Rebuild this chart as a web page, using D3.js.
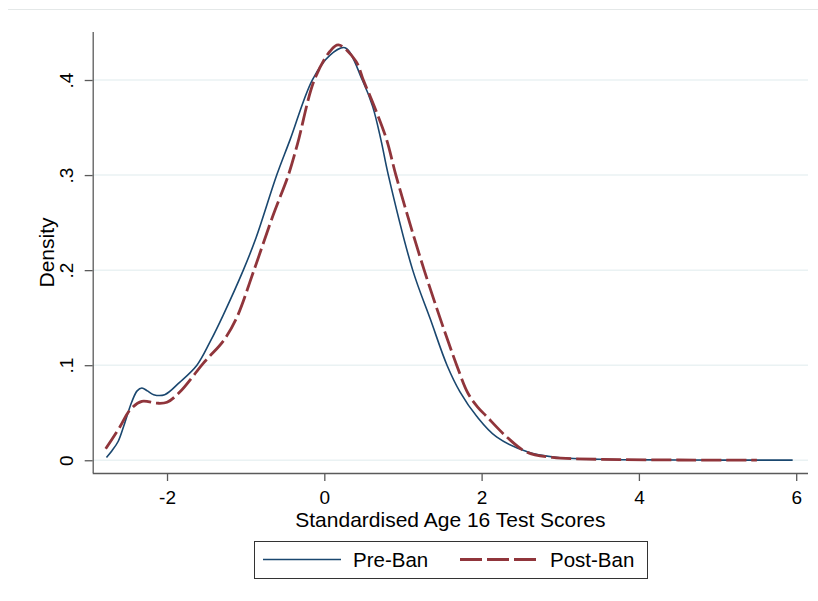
<!DOCTYPE html>
<html>
<head>
<meta charset="utf-8">
<script src="https://cdn.jsdelivr.net/npm/d3@7"></script>
<style>
  body { margin: 0; background: #fff; }
  svg { display: block; font-family: "Liberation Sans", Arial, sans-serif; }
</style>
</head>
<body>
<svg id="chart" width="818" height="601"></svg>
<script>
// kernel density readings, standardised age 16 test scores
const preX = [-2.77, -2.70, -2.62, -2.55, -2.45, -2.38, -2.32, -2.25, -2.17, -2.03, -1.84, -1.62, -1.45, -1.284, -1.03, -0.868, -0.605, -0.436, -0.153, 0.07, 0.263, 0.483, 0.615, 0.72, 0.814, 1.124, 1.35, 1.56, 1.725, 1.94, 2.19, 2.59, 2.91, 3.5, 4.5, 5.955];
const preY = [0.003, 0.010, 0.020, 0.036, 0.061, 0.073, 0.076, 0.073, 0.069, 0.069, 0.082, 0.100, 0.125, 0.153, 0.200, 0.234, 0.300, 0.337, 0.400, 0.426, 0.434, 0.400, 0.372, 0.337, 0.300, 0.200, 0.148, 0.100, 0.072, 0.046, 0.0245, 0.0087, 0.0035, 0.001, 0.0003, 0.0001];

const postX = [-2.78, -2.6, -2.47, -2.32, -2.13, -2.0, -1.835, -1.54, -1.462, -1.28, -1.114, -0.894, -0.65, -0.457, -0.34, -0.127, 0.07, 0.178, 0.40, 0.496, 0.636, 0.793, 0.91, 1.27, 1.683, 1.83, 1.95, 2.065, 2.32, 2.57, 2.9, 3.5, 4.5, 5.5];
const postY = [0.012, 0.035, 0.053, 0.062, 0.060, 0.061, 0.072, 0.102, 0.109, 0.126, 0.150, 0.200, 0.258, 0.300, 0.333, 0.400, 0.430, 0.437, 0.420, 0.400, 0.372, 0.337, 0.300, 0.200, 0.100, 0.070, 0.056, 0.046, 0.0245, 0.0087, 0.003, 0.001, 0.0003, 0.0001];

const xTicks = [-2, 0, 2, 4, 6];
const yTicks = [0, 0.1, 0.2, 0.3, 0.4];
const yTickLabels = ["0", ".1", ".2", ".3", ".4"];
const seriesNames = ["Pre-Ban", "Post-Ban"];

const svg = d3.select("#chart");
const navy = "#1a476f", maroon = "#90353b";
const tickFont = "19px", titleFont = "21px", legendFont = "20.5px";

// plot region
const plotLeft = 92.7, plotRight = 808, plotTop = 32, plotBottom = 473;

const x = d3.scaleLinear().domain([-2.945, 6.15]).range([plotLeft, plotRight]);
const y = d3.scaleLinear().domain([-0.0134, 0.4505]).range([plotBottom, plotTop]);

// thin rule at top of the graph region
svg.append("line")
  .attr("x1", 8).attr("x2", 818).attr("y1", 9.5).attr("y2", 9.5)
  .attr("stroke", "#e4e8e8").attr("stroke-width", 1);

// gridlines
svg.append("g")
  .selectAll("line")
  .data(yTicks)
  .join("line")
  .attr("x1", plotLeft).attr("x2", plotRight)
  .attr("y1", (d) => y(d)).attr("y2", (d) => y(d))
  .attr("stroke", "#eaf2f3").attr("stroke-width", 1.5);

// axes
const xAxis = svg.append("g")
  .attr("transform", `translate(0,${plotBottom})`)
  .call(d3.axisBottom(x).tickValues(xTicks).tickSize(8).tickFormat((d) => String(d)));
xAxis.select(".domain").attr("d", `M${plotLeft},0.5H${plotRight}`);

const yAxis = svg.append("g")
  .attr("transform", `translate(${plotLeft},0)`)
  .call(d3.axisLeft(y).tickValues(yTicks).tickSize(8).tickFormat((d, i) => yTickLabels[i]));
yAxis.select(".domain").attr("d", `M0.5,${plotTop}V${plotBottom}`);

[xAxis, yAxis].forEach((g) => {
  g.select(".domain").attr("stroke", "#5a5a5a").attr("stroke-width", 1.3);
  g.selectAll(".tick line").attr("stroke", "#5a5a5a").attr("stroke-width", 1.3);
  g.selectAll("text").attr("fill", "#000").style("font-size", tickFont)
    .style("font-family", "'Liberation Sans', Arial, sans-serif");
});

// rotate y tick labels like Stata
yAxis.selectAll(".tick text")
  .attr("x", null)
  .attr("text-anchor", "middle")
  .attr("transform", "translate(-26,0) rotate(-90)")
  .attr("dy", "0.35em");
xAxis.selectAll(".tick text").attr("y", 30.5).attr("dy", null);

// axis titles
svg.append("text")
  .attr("x", (plotLeft + plotRight) / 2).attr("y", 527)
  .attr("text-anchor", "middle").style("font-size", titleFont)
  .text("Standardised Age 16 Test Scores");

svg.append("text")
  .attr("transform", `translate(54,${(plotTop + plotBottom) / 2}) rotate(-90)`)
  .attr("text-anchor", "middle").style("font-size", titleFont)
  .text("Density");

// density curves
const line = d3.line()
  .x((d) => x(d[0]))
  .y((d) => y(d[1]))
  .curve(d3.curveCatmullRom.alpha(0.5));

const pre = preX.map((v, i) => [v, preY[i]]);
const post = postX.map((v, i) => [v, postY[i]]);

svg.append("path")
  .datum(pre)
  .attr("d", line)
  .attr("fill", "none")
  .attr("stroke", navy)
  .attr("stroke-width", 1.6);

svg.append("path")
  .datum(post)
  .attr("d", line)
  .attr("fill", "none")
  .attr("stroke", maroon)
  .attr("stroke-width", 2.8)
  .attr("stroke-dasharray", "20,5");

// legend
const legend = svg.append("g");
legend.append("rect")
  .attr("x", 254.5).attr("y", 541.5).attr("width", 393).attr("height", 37)
  .attr("fill", "#fff").attr("stroke", "#333").attr("stroke-width", 1);

const legendItems = [
  { name: seriesNames[0], color: navy, width: 1.6, dash: null, x0: 263 },
  { name: seriesNames[1], color: maroon, width: 2.8, dash: "22,5", x0: 460 },
];
legendItems.forEach((it) => {
  legend.append("line")
    .attr("x1", it.x0).attr("x2", it.x0 + 78)
    .attr("y1", 559.5).attr("y2", 559.5)
    .attr("stroke", it.color).attr("stroke-width", it.width)
    .attr("stroke-dasharray", it.dash);
  legend.append("text")
    .attr("x", it.x0 + 90).attr("y", 567)
    .style("font-size", legendFont)
    .text(it.name);
});
</script>
</body>
</html>
